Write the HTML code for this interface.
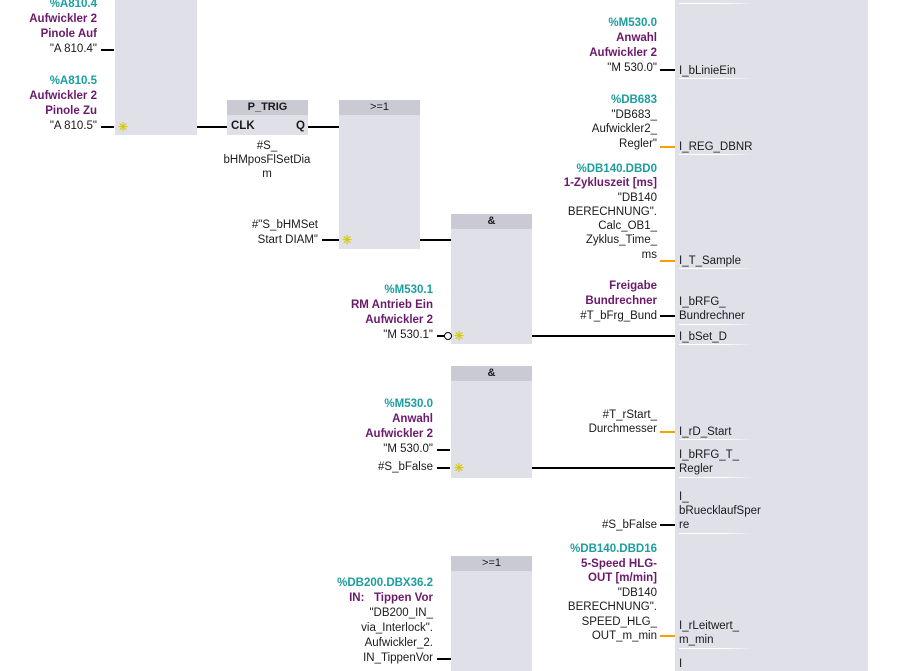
<!DOCTYPE html>
<html><head><meta charset="utf-8"><style>
body{margin:0;width:905px;height:671px;overflow:hidden;background:#fff;position:relative;font-family:"Liberation Sans",Tahoma,sans-serif;font-size:11.5px;color:#1a1a1a}
.b{position:absolute;background:#dfe0e8}
.h{position:absolute;background:#c9cad4;text-align:center;font-weight:bold;font-size:11px;line-height:15px}
.l{position:absolute;height:2px;background:#000}
.o{position:absolute;height:2px;background:#f5a000}
.t{position:absolute;text-align:right;white-space:nowrap}
.a{color:#1c9ea0;font-weight:bold}
.c{color:#6b1a6b;font-weight:bold}
.p{position:absolute;left:679px;white-space:nowrap;line-height:14px}
.u{position:absolute;left:679px;width:75px;height:1px;background:linear-gradient(90deg,#fff,#fff 60%,rgba(255,255,255,0))}
.s{position:absolute;color:#d8c800;font-size:12px;font-weight:bold;line-height:12px}
</style></head><body>
<div class="b" style="left:115px;top:0;width:82px;height:135px"></div>
<div class="b" style="left:227px;top:100px;width:81px;height:35px"></div>
<div class="h" style="left:227px;top:100px;width:81px">P_TRIG</div>
<div class="b" style="left:339px;top:100px;width:81px;height:149px"></div>
<div class="h" style="left:339px;top:100px;width:81px;font-weight:normal">&gt;=1</div>
<div class="b" style="left:451px;top:214px;width:81px;height:130px"></div>
<div class="h" style="left:451px;top:214px;width:81px">&amp;</div>
<div class="b" style="left:451px;top:366px;width:81px;height:112px"></div>
<div class="h" style="left:451px;top:366px;width:81px">&amp;</div>
<div class="b" style="left:451px;top:556px;width:81px;height:115px"></div>
<div class="h" style="left:451px;top:556px;width:81px;font-weight:normal">&gt;=1</div>
<div class="b" style="left:675px;top:0;width:193px;height:671px"></div>

<div class="l" style="left:101px;top:49px;width:13px"></div>
<div class="l" style="left:101px;top:126px;width:13px"></div>
<div class="l" style="left:197px;top:126px;width:30px"></div>
<div class="l" style="left:308px;top:126px;width:31px"></div>
<div class="l" style="left:322px;top:239px;width:17px"></div>
<div class="l" style="left:420px;top:239px;width:31px"></div>
<div class="l" style="left:437px;top:335px;width:8px"></div>
<div style="position:absolute;left:444px;top:332px;width:6px;height:6px;border:1.5px solid #000;border-radius:50%;background:#fff"></div>
<div class="l" style="left:532px;top:335px;width:143px"></div>
<div class="l" style="left:660px;top:69px;width:15px"></div>
<div class="o" style="left:660px;top:146px;width:15px"></div>
<div class="o" style="left:660px;top:260px;width:15px"></div>
<div class="l" style="left:660px;top:315px;width:15px"></div>
<div class="o" style="left:660px;top:431px;width:15px"></div>
<div class="l" style="left:437px;top:449px;width:13px"></div>
<div class="l" style="left:437px;top:467px;width:13px"></div>
<div class="l" style="left:532px;top:467px;width:143px"></div>
<div class="l" style="left:660px;top:524px;width:15px"></div>
<div class="o" style="left:660px;top:635px;width:15px"></div>
<div class="l" style="left:437px;top:658px;width:14px"></div>

<div class="s" style="left:118px;top:121px">✳</div>
<div class="s" style="left:342px;top:234px">✳</div>
<div class="s" style="left:454px;top:330px">✳</div>
<div class="s" style="left:454px;top:462px">✳</div>

<div class="t" style="left:231px;top:120px;font-weight:bold;text-align:left">CLK</div>
<div class="t" style="left:296px;top:120px;font-weight:bold;text-align:left">Q</div>

<div class="t" style="right:808px;top:-3px;line-height:15px"><span class="a">%A810.4</span><br><span class="c">Aufwickler 2</span><br><span class="c">Pinole Auf</span><br>"A 810.4"</div>
<div class="t" style="right:808px;top:74px;line-height:15px"><span class="a">%A810.5</span><br><span class="c">Aufwickler 2</span><br><span class="c">Pinole Zu</span><br>"A 810.5"</div>
<div class="t" style="left:212px;width:110px;top:139px;line-height:14px;text-align:center">#S_<br>bHMposFlSetDia<br>m</div>
<div class="t" style="right:587px;top:218px;line-height:15px">#"S_bHMSet<br>Start DIAM"</div>
<div class="t" style="right:472px;top:283px;line-height:15px"><span class="a">%M530.1</span><br><span class="c">RM Antrieb Ein</span><br><span class="c">Aufwickler 2</span><br>"M 530.1"</div>
<div class="t" style="right:472px;top:397px;line-height:15px"><span class="a">%M530.0</span><br><span class="c">Anwahl</span><br><span class="c">Aufwickler 2</span><br>"M 530.0"<br><span style="line-height:20px">#S_bFalse</span></div>
<div class="t" style="right:472px;top:576px;line-height:15px"><span class="a">%DB200.DBX36.2</span><br><span class="c">IN:&nbsp;&nbsp; Tippen Vor</span><br>"DB200_IN_<br>via_Interlock".<br>Aufwickler_2.<br>IN_TippenVor</div>

<div class="t" style="right:248px;top:16px;line-height:15px"><span class="a">%M530.0</span><br><span class="c">Anwahl</span><br><span class="c">Aufwickler 2</span><br>"M 530.0"</div>
<div class="t" style="right:248px;top:93px;line-height:14.7px"><span class="a">%DB683</span><br>"DB683_<br>Aufwickler2_<br>Regler"</div>
<div class="t" style="right:248px;top:162px;line-height:14.3px"><span class="a">%DB140.DBD0</span><br><span class="c">1-Zykluszeit [ms]</span><br>"DB140<br>BERECHNUNG".<br>Calc_OB1_<br>Zyklus_Time_<br>ms</div>
<div class="t" style="right:248px;top:279px;line-height:15px"><span class="c">Freigabe</span><br><span class="c">Bundrechner</span><br>#T_bFrg_Bund</div>
<div class="t" style="right:248px;top:408px;line-height:14px">#T_rStart_<br>Durchmesser</div>
<div class="t" style="right:248px;top:518px;line-height:14px">#S_bFalse</div>
<div class="t" style="right:248px;top:542px;line-height:14.5px"><span class="a">%DB140.DBD16</span><br><span class="c">5-Speed HLG-</span><br><span class="c">OUT [m/min]</span><br>"DB140<br>BERECHNUNG".<br>SPEED_HLG_<br>OUT_m_min</div>

<div class="p" style="top:64px">I_bLinieEin</div><div class="u" style="top:78px"></div>
<div class="p" style="top:140px">I_REG_DBNR</div><div class="u" style="top:154px"></div>
<div class="p" style="top:254px">I_T_Sample</div><div class="u" style="top:268px"></div>
<div class="p" style="top:295px">I_bRFG_<br>Bundrechner</div><div class="u" style="top:324px"></div>
<div class="p" style="top:330px">I_bSet_D</div><div class="u" style="top:344px"></div>
<div class="p" style="top:425px">I_rD_Start</div><div class="u" style="top:439px"></div>
<div class="p" style="top:448px">I_bRFG_T_<br>Regler</div><div class="u" style="top:477px"></div>
<div class="p" style="top:490px">I_<br>bRuecklaufSper<br>re</div><div class="u" style="top:533px"></div>
<div class="p" style="top:619px">I_rLeitwert_<br>m_min</div><div class="u" style="top:648px"></div>
<div class="p" style="top:657px">I</div>
<div class="u" style="top:3px"></div>
</body></html>
